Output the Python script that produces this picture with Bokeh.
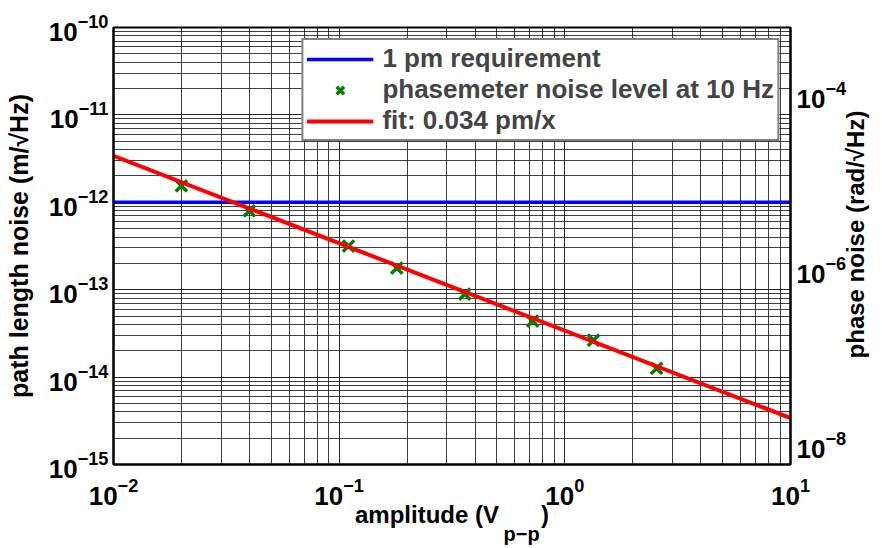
import math
from bokeh.plotting import figure
from bokeh.models import (Range1d, LogScale, LogAxis, FixedTicker, LogTickFormatter,
                          Legend, LegendItem, Label)
from bokeh.embed import file_html
from bokeh.resources import INLINE

# ---- data ----
amplitude = [0.02, 0.04, 0.11, 0.18, 0.36, 0.72, 1.34, 2.55]          # V p-p
noise_10hz = [1.54e-12, 7.97e-13, 3.16e-13, 1.77e-13, 8.9e-14, 4.37e-14, 2.64e-14, 1.26e-14]  # m/rtHz
req_x = [0.01, 10.0]
req_y = [1e-12, 1e-12]
fit_x = [0.01, 10.0]
fit_y = [3.4e-12, 3.4e-15]

x_lim = (0.01, 10.0)
y_lim = (1e-15, 1e-10)
phase_lim = (5.9e-9, 5.9e-4)
x_decades = [-2, -1, 0, 1]
y_decades = [-15, -14, -13, -12, -11, -10]
phase_ticks = [1e-8, 1e-6, 1e-4]

FONT = "Liberation Sans"

def major(decs):
    return [10.0 ** d for d in decs]

def minor(decs):
    return [k * 10.0 ** d for d in decs[:-1] for k in range(2, 10)]

p = figure(width=882, height=548, x_axis_type="log", y_axis_type="log",
           x_range=Range1d(*x_lim), y_range=Range1d(*y_lim),
           output_backend="svg", toolbar_location=None,
           min_border_left=113, min_border_right=92, min_border_top=27, min_border_bottom=84)
p.extra_y_ranges = {"phase": Range1d(*phase_lim)}
p.extra_y_scales = {"phase": LogScale()}

p.xaxis.ticker = FixedTicker(ticks=major(x_decades), minor_ticks=minor(x_decades))
p.yaxis.ticker = FixedTicker(ticks=major(y_decades), minor_ticks=minor(y_decades))

right = LogAxis(y_range_name="phase",
                ticker=FixedTicker(ticks=phase_ticks, minor_ticks=[]),
                formatter=LogTickFormatter())
p.add_layout(right, "right")

for ax in p.xaxis + p.yaxis:
    ax.formatter = LogTickFormatter()
    ax.major_label_text_font = FONT
    ax.major_label_text_font_style = "bold"
    ax.major_label_text_font_size = "26px"
    ax.major_label_text_color = "black"
    ax.axis_label_text_font = FONT
    ax.axis_label_text_font_style = "bold"
    ax.axis_label_text_font_size = "25px"
    ax.axis_label_text_color = "black"
    ax.major_tick_in = 0
    ax.major_tick_out = 0
    ax.minor_tick_in = 0
    ax.minor_tick_out = 0
    ax.axis_line_color = "black"
    ax.axis_line_width = 2

p.yaxis[0].axis_label = "path length noise (m/\u221aHz)"
p.yaxis[0].axis_label_standoff = 13
p.yaxis[0].major_label_standoff = 5
right.major_label_standoff = 6
# x label: the gap before ")" is filled by the subscript placed below
p.xaxis.axis_label = "amplitude (V\u2003\u2002\u2005)"
p.xaxis.axis_label_text_font_size = "24px"
p.xaxis.axis_label_standoff = -7
p.xaxis.major_label_standoff = 13

p.outline_line_color = "black"
p.outline_line_width = 2

for g in p.xgrid + p.ygrid:
    g.grid_line_color = "black"
    g.grid_line_alpha = 0.85
    g.grid_line_width = 1
    g.minor_grid_line_color = "black"
    g.minor_grid_line_alpha = 0.75
    g.minor_grid_line_width = 1

p.background_fill_color = "white"
p.border_fill_color = "white"

r_req = p.line(req_x, req_y, line_color="#0000ff", line_width=3.5)
r_pts = p.scatter(amplitude, noise_10hz, marker="x", size=16, line_color="#008000", line_width=3.5)
r_fit = p.line(fit_x, fit_y, line_color="#ff0000", line_width=4)

legend = Legend(items=[
    LegendItem(label="1 pm requirement", renderers=[r_req]),
    LegendItem(label="phasemeter noise level at 10 Hz", renderers=[r_pts]),
    LegendItem(label="fit: 0.034 pm/x", renderers=[r_fit]),
], location="top_right")
legend.margin = 11
legend.padding = 3
legend.spacing = 0
legend.glyph_width = 67
legend.glyph_height = 26
legend.label_height = 26
legend.label_standoff = 9
legend.label_text_font = FONT
legend.label_text_font_style = "bold"
legend.label_text_font_size = "26px"
legend.border_line_color = "black"
legend.border_line_width = 2
legend.background_fill_alpha = 1
p.add_layout(legend, "center")

def txt(text, x, y, size, align="left", angle=0.0, baseline="alphabetic"):
    return Label(x=x, y=y, x_units="screen", y_units="screen", text=text, angle=angle,
                 text_align=align, text_baseline=baseline, text_font=FONT,
                 text_font_style="bold", text_font_size=size, text_color="black")

# subscript of the x label (placed from the top panel, which has free room)
p.add_layout(txt("p\u2212p", 390, -506, "20px"), "above")
# right-axis label, reading bottom to top
p.add_layout(txt("phase noise (rad/\u221aHz)", 6, 230, "24px", align="center",
                 angle=math.pi / 2, baseline="middle"), "right")

open("out.html", "w").write(file_html(p, INLINE))
